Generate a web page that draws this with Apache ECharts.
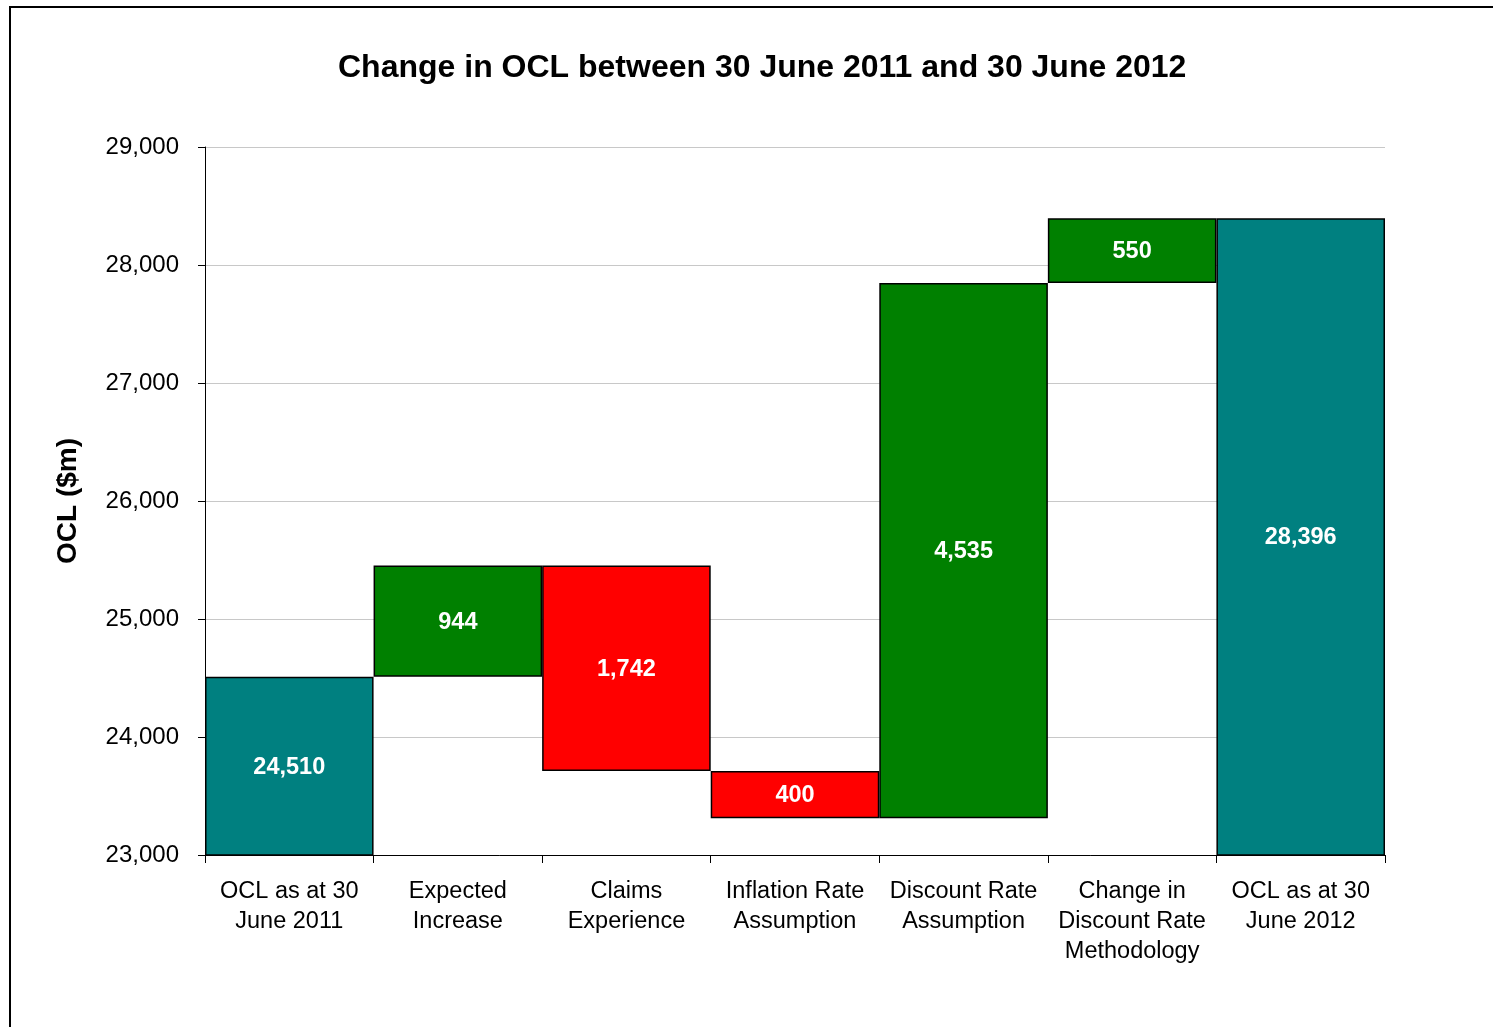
<!DOCTYPE html>
<html>
<head>
<meta charset="utf-8">
<script src="https://cdn.jsdelivr.net/npm/echarts@6/dist/echarts.min.js"></script>
<style>
  html, body { margin: 0; padding: 0; background: #fff; }
  #chart { width: 1493px; height: 1027px; }
</style>
</head>
<body>
<div id="chart"></div>
<script>
// Waterfall of OCL movements ($m)
const categories = [
  'OCL as at 30\nJune 2011',
  'Expected\nIncrease',
  'Claims\nExperience',
  'Inflation Rate\nAssumption',
  'Discount Rate\nAssumption',
  'Change in\nDiscount Rate\nMethodology',
  'OCL as at 30\nJune 2012'
];
// Opening and closing totals, and the movements in between (signed)
const openingTotal = 24510;
const movements = [944, -1742, -400, 4535, 550];
const closingTotal = 28396;

const yMin = 23000, yMax = 29000, yStep = 1000;

const TEAL = '#008080', GREEN = '#008000', RED = '#FF0000';
const FONT = '"Liberation Sans", Arial, sans-serif';

// Build invisible base + visible segment for each column
const baseData = [];
const barData = [];
baseData.push(0);
barData.push({ value: openingTotal, label: openingTotal, itemStyle: { color: TEAL } });
let running = openingTotal;
movements.forEach(m => {
  const next = running + m;
  baseData.push(Math.min(running, next));
  barData.push({ value: Math.abs(m), label: Math.abs(m), itemStyle: { color: m >= 0 ? GREEN : RED } });
  running = next;
});
baseData.push(0);
barData.push({ value: closingTotal, label: closingTotal, itemStyle: { color: TEAL } });

const chart = echarts.init(document.getElementById('chart'), null, { renderer: 'canvas' });
chart.setOption({
  animation: false,
  backgroundColor: '#fff',
  title: {
    text: 'Change in OCL between 30 June 2011 and 30 June 2012',
    left: 333,
    top: 47,
    textStyle: { fontFamily: FONT, fontSize: 32, fontWeight: 'bold', color: '#000' }
  },
  graphic: [{
    type: 'rect',
    shape: { x: 10, y: 7, width: 1600, height: 1200 },
    style: { fill: 'none', stroke: '#000', lineWidth: 2 },
    silent: true
  }],
  grid: { left: 205, right: 108, top: 147, bottom: 172 },
  xAxis: {
    type: 'category',
    data: categories,
    boundaryGap: true,
    axisLine: { show: true, lineStyle: { color: '#000', width: 1 } },
    axisTick: { show: true, alignWithLabel: false, length: 8, lineStyle: { color: '#000' } },
    axisLabel: {
      interval: 0,
      margin: 22,
      fontFamily: FONT,
      fontSize: 23.5,
      lineHeight: 30,
      color: '#000'
    }
  },
  yAxis: {
    type: 'value',
    min: yMin,
    max: yMax,
    interval: yStep,
    name: 'OCL ($m)',
    nameLocation: 'middle',
    nameGap: 123,
    nameTextStyle: { fontFamily: FONT, fontSize: 28, fontWeight: 'bold', color: '#000' },
    axisLine: { show: true, lineStyle: { color: '#000', width: 1 } },
    axisTick: { show: true, length: 7, lineStyle: { color: '#000' } },
    axisLabel: {
      margin: 26,
      fontFamily: FONT,
      fontSize: 24,
      color: '#000',
      formatter: v => v.toLocaleString('en-US')
    },
    splitLine: { show: true, lineStyle: { color: '#c8c8c8', width: 1 } }
  },
  series: [
    {
      type: 'bar',
      stack: 'wf',
      data: baseData,
      barCategoryGap: '0%',
      itemStyle: { color: 'transparent', borderWidth: 0 },
      emphasis: { disabled: true },
      silent: true
    },
    {
      type: 'bar',
      stack: 'wf',
      data: barData,
      barCategoryGap: '0%',
      itemStyle: { borderColor: '#000', borderWidth: 1.5 },
      label: {
        show: true,
        position: 'inside',
        offset: [0, 1],
        fontFamily: FONT,
        fontSize: 23.5,
        fontWeight: 'bold',
        color: '#fff',
        formatter: p => Number(p.data.label).toLocaleString('en-US')
      }
    }
  ]
});
</script>
</body>
</html>
